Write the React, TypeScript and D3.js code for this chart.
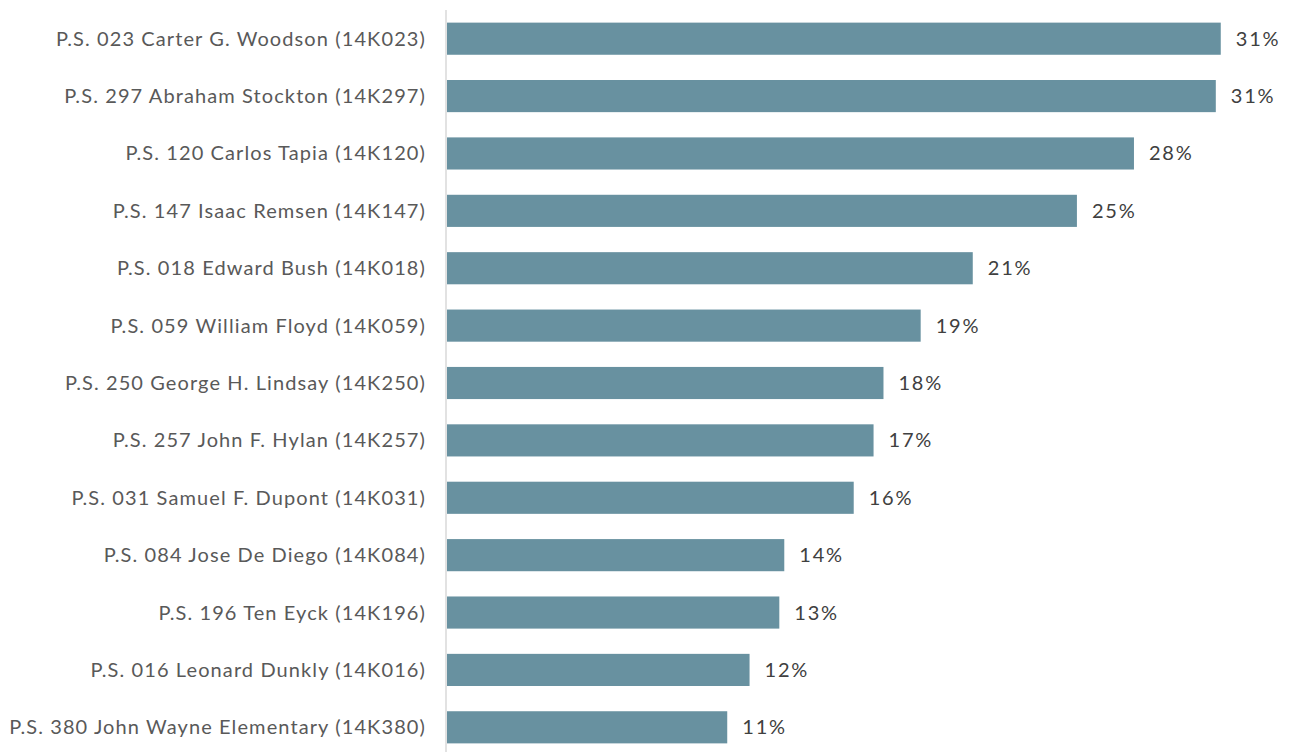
import React from "react";
import * as d3 from "d3";

const schools = [
  "P.S. 023 Carter G. Woodson (14K023)",
  "P.S. 297 Abraham Stockton (14K297)",
  "P.S. 120 Carlos Tapia (14K120)",
  "P.S. 147 Isaac Remsen (14K147)",
  "P.S. 018 Edward Bush (14K018)",
  "P.S. 059 William Floyd (14K059)",
  "P.S. 250 George H. Lindsay (14K250)",
  "P.S. 257 John F. Hylan (14K257)",
  "P.S. 031 Samuel F. Dupont (14K031)",
  "P.S. 084 Jose De Diego (14K084)",
  "P.S. 196 Ten Eyck (14K196)",
  "P.S. 016 Leonard Dunkly (14K016)",
  "P.S. 380 John Wayne Elementary (14K380)",
];
const values = [31.2, 31.0, 27.7, 25.4, 21.2, 19.1, 17.6, 17.2, 16.4, 13.6, 13.4, 12.2, 11.3];

const W = 1289;
const H = 752;
const axisX = 446;

export default function App() {
  const x = d3.scaleLinear().domain([0, 34]).range([axisX + 1, axisX + 1 + 34 * 24.8]);
  const y = d3.scaleBand<string>().domain(schools).range([10, 756]).paddingInner(0.44).paddingOuter(0.22);
  const font = "Lato, 'Open Sans', sans-serif";
  return (
    <svg width={W} height={H} style={{ position: "absolute", left: 0, top: 0, background: "#fff" }}>
      {schools.map((s, i) => {
        const yy = y(s)!;
        const bh = y.bandwidth();
        return (
          <g key={s}>
            <rect x={x(0)} y={yy} width={x(values[i]) - x(0)} height={bh} fill="#6891A0" />
            <text x={426} y={yy + bh / 2} dy="0.35em" textAnchor="end" fontFamily={font} fontSize={20} letterSpacing={1.1} fill="#595959">
              {s}
            </text>
            <text x={x(values[i]) + 15} y={yy + bh / 2} dy="0.35em" textAnchor="start" fontFamily={font} fontSize={20} letterSpacing={1.8} fill="#404040">
              {Math.round(values[i]) + "%"}
            </text>
          </g>
        );
      })}
      <line x1={axisX} x2={axisX} y1={10} y2={H} stroke="#d9d9d9" strokeWidth={1.5} />
    </svg>
  );
}
